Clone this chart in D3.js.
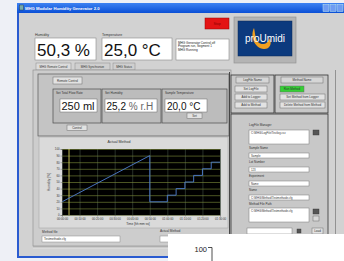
<!DOCTYPE html>
<html><head><meta charset="utf-8">
<script src="https://cdn.jsdelivr.net/npm/d3@7"></script>
<style>
html,body{margin:0;padding:0;background:#eef0f6;overflow:hidden}
svg{display:block;font-family:"Liberation Sans",Arial,sans-serif}
</style></head><body>
<svg id="c" width="344" height="261"></svg>
<script>
// ---- chart data ----
const timeTicks = [0, 10, 20, 30, 40, 50, 60, 70, 80, 90];
const timeLabels = ["00:00:00","00:10:00","00:20:00","00:30:00","00:40:00","00:50:00","01:00:00","01:10:00","01:20:00","01:30:00"];
const humidityTicks = [0, 10, 20, 30, 40, 50, 60, 70, 80, 90, 100];
const methodTime =     [0, 50, 50, 60, 60, 65, 65, 70, 70, 75, 75, 80, 80, 85, 85, 90];
const methodHumidity = [20, 90, 20, 20, 30, 30, 40, 40, 50, 50, 60, 60, 70, 70, 80, 80];
const cursorTime = [4];
// ---- UI texts ----
const readoutLabels = ["Humidity", "Temperature"];
const readoutValues = ["50,3 %", "25,0 °C"];
const tabNames = ["MHG Remote Control", "MHG Synchronize", "MHG Status"];
const statusLines = ["MHG Generator Control off", "Program run, Segment 1", "MHG Running"];
const setLabels = ["Set Total Flow Rate", "Set Humidity", "Sample Temperature"];
const setValues = ["250 ml", "25,2", "20,0 °C"];
const logButtons = ["Set LogFile", "Add to Logger", "Add to Method"];
const methodButtons = ["Run Method", "Set Method from Logger", "Delete Method from Method"];
const fieldLabels = ["Sample Name", "Lot Number", "Experiment", "Name"];
const fieldValues = ["Sample", "123", "Name", "C:\\MHG\\Method\\Testmethode.cfg"];

const svg = d3.select("#c");
function rect(x, y, w, h, fill, stroke, sw) {
  return svg.append("rect").attr("x", x).attr("y", y).attr("width", w).attr("height", h)
    .attr("fill", fill || "none").attr("stroke", stroke || "none").attr("stroke-width", sw || 0.6);
}
function text(x, y, s, size, fill, anchor, weight) {
  return svg.append("text").attr("x", x).attr("y", y).text(s)
    .attr("font-size", size).attr("fill", fill || "#222")
    .attr("text-anchor", anchor || "start").attr("font-weight", weight || "normal");
}
function line(x1, y1, x2, y2, stroke, sw) {
  return svg.append("line").attr("x1", x1).attr("y1", y1).attr("x2", x2).attr("y2", y2)
    .attr("stroke", stroke).attr("stroke-width", sw || 0.6);
}
function button(x, y, w, h, label, fill) {
  rect(x, y, w, h, fill || "#e2e2e2", "#6c6c6c", 0.5);
  text(x + w / 2, y + h - 1.6, label, 3, "#333", "middle");
}

// page background
rect(0, 0, 344, 261, "#eef0f6");
// window frame
rect(17, 3, 330, 255, "#2a5bd0");
const defs = svg.append("defs");
const g = defs.append("linearGradient").attr("id", "tb").attr("x1", 0).attr("x2", 0).attr("y1", 0).attr("y2", 1);
g.append("stop").attr("offset", 0).attr("stop-color", "#3d82f2");
g.append("stop").attr("offset", 1).attr("stop-color", "#0a4fd6");
rect(17, 3, 330, 10, "url(#tb)");
rect(19.5, 5, 4, 5, "#7aa", "#234", 0.4);
text(25, 10.3, "MHG Modular Humidity Generator 2.0", 4.2, "#fff", "start", "bold");
rect(323, 4.5, 6, 7, "#6f9cf2", "#dfe", 0.4);
rect(330, 4.5, 6, 7, "#6f9cf2", "#dfe", 0.4);
rect(337, 4.5, 6, 7, "#6f9cf2", "#dfe", 0.4);
// body
rect(19, 13, 328, 243, "#d2d2d2");

// readouts
[35, 102].forEach((x, i) => {
  text(x, 36, readoutLabels[i], 3.6, "#333");
  rect(x, 38, i === 0 ? 61 : 70, 22, "#fff", "#8a8a8a", 0.6);
  text(x + 2, 56, readoutValues[i], 17, "#111");
});
// status notes
rect(176, 39, 53, 21, "#fff", "#8a8a8a", 0.6);
statusLines.forEach((s, i) => text(178, 43.5 + i * 3.6, s, 3.1, "#222"));
// red button
rect(205, 18, 24, 11, "#e41414", "#900", 0.5);
text(217, 25, "Stop", 3.5, "#800", "middle");
// logo
rect(234, 17, 62, 46, "#b4b4b4", "#8e8e8e", 0.6);
rect(238, 21, 54, 35, "#0c3a7e", "#0a2a5a", 0.5);
svg.append("path").attr("d", "M254,28 C250,36 254,48 264,49 C270,49 272,44 270,38 C268,44 262,46 258,42 C255,38 255,32 254,28 Z")
  .attr("fill", "#f2a020");
text(265, 42, "proUmidi", 10, "#fff", "middle");

// tabs
const tabX = [36, 75, 113], tabW = [35, 35, 22];
tabNames.forEach((t, i) => {
  rect(tabX[i], 63, tabW[i], 7, i === 0 ? "#dcdcdc" : "#cfcfcf", "#8a8a8a", 0.5);
  text(tabX[i] + tabW[i] / 2, 68, t, 2.9, "#333", "middle");
});
// tab panel
rect(33, 70, 198, 176, "#cdcdcd", "#8a8a8a", 0.6);
// remote control group
rect(38, 74, 191, 62, "#c4c4c4", "#5a5a5a", 0.7);
button(53, 77, 29, 7, "Remote Control");
const boxX = [53, 102, 162], boxW = [48, 59, 65];
const fieldX = [60, 105, 165], fieldW = [37, 52, 42];
setLabels.forEach((s, i) => {
  rect(boxX[i], 89, boxW[i], 34, "#bcbcbc", "#4a4a4a", 0.7);
  text(boxX[i] + 3, 94, s, 3.1, "#333");
  rect(fieldX[i], 99, fieldW[i], 13, "#fff", "#6a6a6a", 0.5);
});
text(61.5, 110, setValues[0], 11, "#111");
const hv = text(106.5, 110, setValues[1], 10, "#111");
hv.append("tspan").text(" % r.H").attr("fill", "#666");
text(167, 110, setValues[2], 10, "#111");
button(67, 125, 20, 5.5, "Control");
button(187, 113, 15, 5.5, "Set");

// chart panel
rect(39, 137, 189, 91, "#dadada", "#a8a8a8", 0.6);
text(119, 143, "Actual Method", 3.6, "#333", "middle");

// ---- chart ----
const plot = { x0: 62, x1: 220, y0: 149, y1: 215 };
const x = d3.scaleLinear().domain([0, 90]).range([plot.x0, plot.x1]);
const y = d3.scaleLinear().domain([0, 100]).range([plot.y1, plot.y0]);
rect(plot.x0, plot.y0, plot.x1 - plot.x0, plot.y1 - plot.y0, "#000");
const gridV = svg.append("g").attr("transform", `translate(0,${plot.y1})`)
  .call(d3.axisBottom(x).tickValues(timeTicks).tickSize(-(plot.y1 - plot.y0)).tickFormat(""));
gridV.selectAll("line").attr("stroke", "#39463a").attr("stroke-width", 0.7);
gridV.select(".domain").remove();
const gridH = svg.append("g").attr("transform", `translate(${plot.x0},0)`)
  .call(d3.axisLeft(y).tickValues(humidityTicks).tickSize(-(plot.x1 - plot.x0)).tickFormat(""));
gridH.selectAll("line").attr("stroke", "#7f8f3a").attr("stroke-width", 0.6);
gridH.select(".domain").remove();
// cursor
svg.selectAll(".cursor").data(cursorTime).join("line").attr("class", "cursor")
  .attr("x1", d => x(d)).attr("x2", d => x(d)).attr("y1", plot.y0).attr("y2", plot.y1)
  .attr("stroke", "#d8d060").attr("stroke-width", 0.9);
// method line
const pts = methodTime.map((t, i) => [t, methodHumidity[i]]);
svg.append("path").datum(pts)
  .attr("d", d3.line().x(d => x(d[0])).y(d => y(d[1])))
  .attr("fill", "none").attr("stroke", "#4f7fd0").attr("stroke-width", 0.9);
// axes labels
const ax = svg.append("g").attr("transform", `translate(${plot.x0},0)`)
  .call(d3.axisLeft(y).tickValues(humidityTicks).tickSize(1.5).tickPadding(1));
ax.selectAll("text").attr("font-size", 2.8).attr("fill", "#333").attr("font-family", "Liberation Sans");
ax.selectAll("line").attr("stroke", "#555").attr("stroke-width", 0.4);
ax.select(".domain").attr("stroke", "#555").attr("stroke-width", 0.4);
const bx = svg.append("g").attr("transform", `translate(0,${plot.y1})`)
  .call(d3.axisBottom(x).tickValues(timeTicks).tickSize(1.5).tickPadding(1).tickFormat((d, i) => timeLabels[i]));
bx.selectAll("text").attr("font-size", 2.9).attr("fill", "#333").attr("font-family", "Liberation Sans");
bx.selectAll("line").attr("stroke", "#555").attr("stroke-width", 0.4);
bx.select(".domain").attr("stroke", "#555").attr("stroke-width", 0.4);
text(138, 225, "Time [hh:mm:ss]", 3.2, "#333", "middle");
text(0, 0, "Humidity [%]", 3.2, "#333", "middle").attr("transform", "translate(50,182) rotate(-90)");

// below chart
text(42, 233, "Method file", 3.2, "#333");
rect(42, 236, 78, 6, "#fff", "#8a8a8a", 0.5);
text(44, 240.3, "Testmethode.cfg", 3, "#333");
text(160, 232, "Actual Method", 3.2, "#333");
rect(160, 236, 60, 6, "#fff", "#8a8a8a", 0.5);
line(33, 247, 347, 247, "#8a8a8a", 0.6);
line(33, 248, 347, 248, "#eeeeee", 0.6);

// right panel
line(229.5, 72, 229.5, 236, "#3a3a3a", 0.9);
rect(231, 75, 43, 38, "#c8c8c8", "#333", 0.8);
rect(275, 75, 53, 38, "#c8c8c8", "#333", 0.8);
button(236, 77, 33, 6, "LogFile Name", "#d6d6d6");
button(281, 77, 42, 6, "Method Name", "#d6d6d6");
logButtons.forEach((s, i) => button(235, 86 + i * 8, 32, 6, s));
methodButtons.forEach((s, i) => button(280, 86 + i * 8, i === 0 ? 24 : 45, 6, s, i === 0 ? "#35d035" : null));
rect(231, 114, 97, 122, "#c8c8c8", "#333", 0.8);
text(249, 126, "LogFile Manager", 3, "#333");
rect(249, 130, 60, 14, "#fff", "#7a7a7a", 0.5);
text(251, 134, "C:\\MHG\\LogFile\\Testlog.csv", 2.8, "#333");
rect(313, 130, 6, 5, "#555", "#333", 0.4);
fieldLabels.forEach((s, i) => {
  const yy = 149 + i * 14;
  text(249, yy, s, 3, "#333");
  rect(249, yy + 4, 60, 5, "#fff", "#7a7a7a", 0.5);
  text(251, yy + 7.9, fieldValues[i], 2.8, "#333");
});
text(249, 205, "Method File Path", 3, "#333");
rect(249, 208, 60, 14, "#fff", "#7a7a7a", 0.5);
text(251, 212, "C:\\MHG\\Method\\Testmethode.cfg", 2.8, "#333");
rect(313, 209, 6, 5, "#555", "#333", 0.4);
rect(313, 216, 6, 5, "#d8d8d8", "#555", 0.4);
rect(247, 228, 45, 6, "#fff", "#7a7a7a", 0.5);
rect(297, 229, 4, 4, "#555", "#333", 0.4);
button(312, 228, 11, 6, "Load");
line(335.5, 70, 335.5, 246, "#777", 0.7);

// white overlay (next figure)
rect(168, 234, 176, 27, "#fff");
text(207, 251.5, "100", 7.5, "#222", "end");
line(208, 247.5, 212, 247.5, "#222", 0.8);
line(212, 247.5, 212, 261, "#222", 0.8);
</script></body></html>
